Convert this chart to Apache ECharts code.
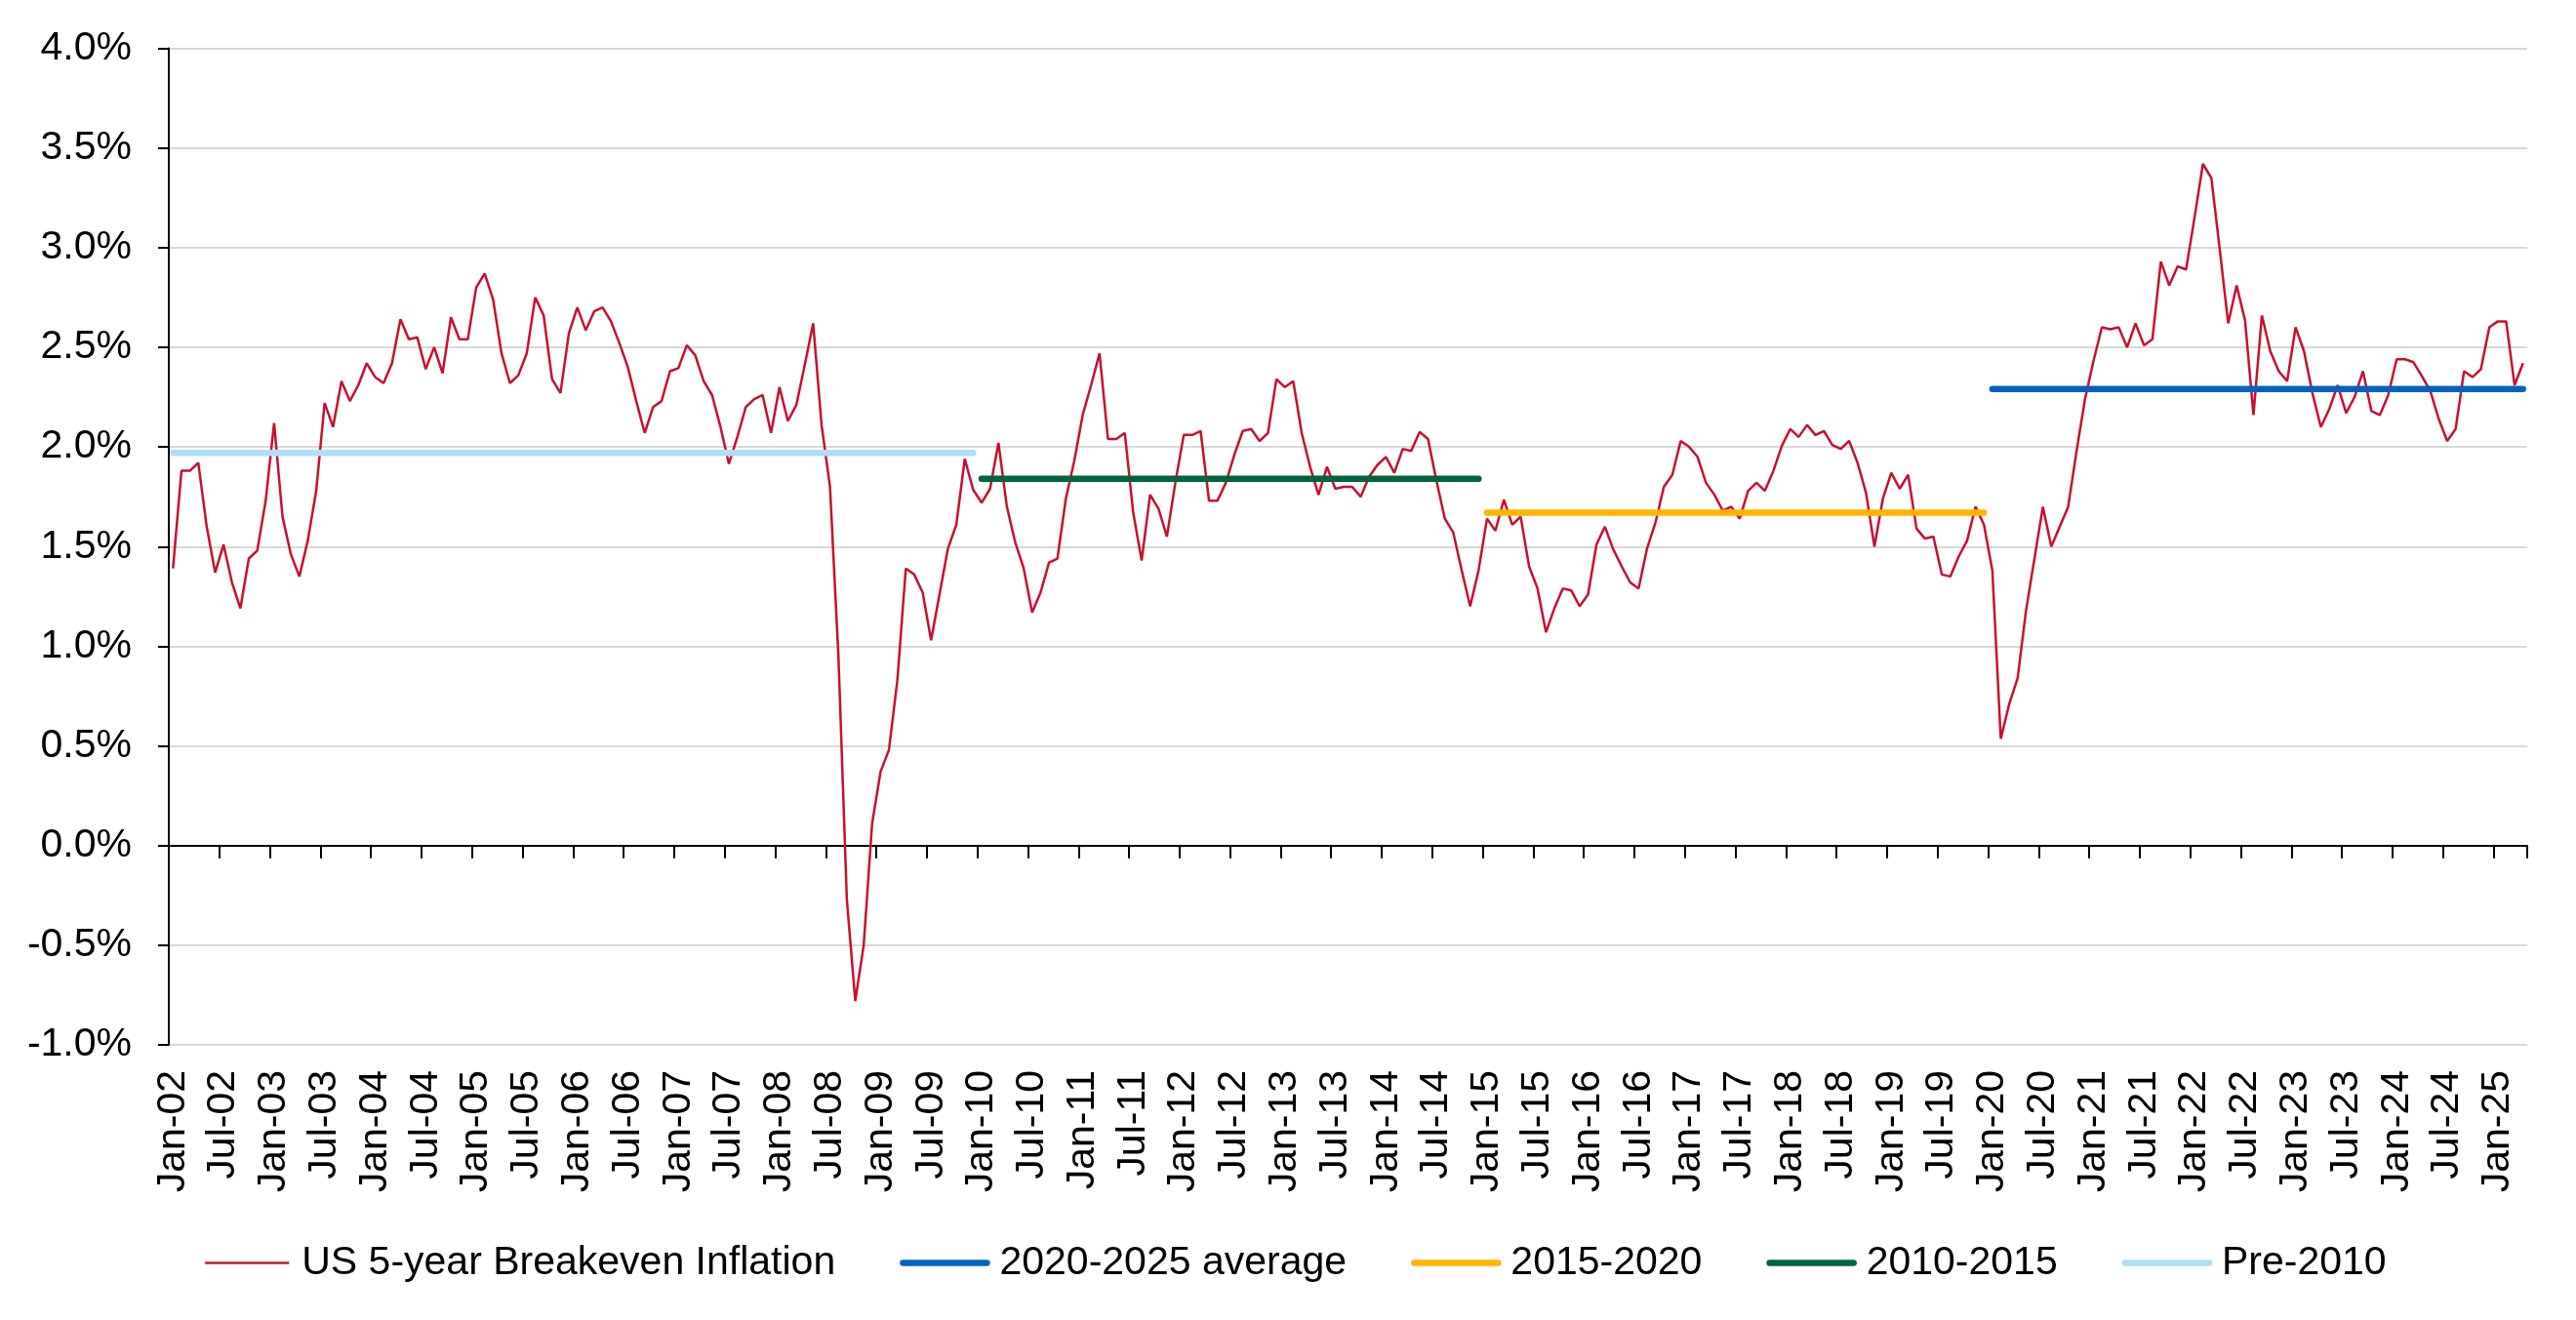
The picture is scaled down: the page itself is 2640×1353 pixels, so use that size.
<!DOCTYPE html>
<html>
<head>
<meta charset="utf-8">
<script src="https://cdn.jsdelivr.net/npm/echarts@6/dist/echarts.min.js"></script>
<style>
  html, body { margin: 0; padding: 0; background: #fff; }
  #chart { width: 2640px; height: 1353px; }
</style>
</head>
<body>
<div id="chart"></div>
<script>
// monthly US 5-year breakeven inflation, Jan-02 .. Apr-25 (%)
const bei2002to2005 = [
  1.39, 1.88, 1.88, 1.92, 1.60, 1.37, 1.51, 1.32, 1.19, 1.44, 1.48, 1.73,
  2.12, 1.65, 1.46, 1.35, 1.53, 1.78, 2.22, 2.10, 2.33, 2.23, 2.31, 2.42,
  2.35, 2.32, 2.42, 2.64, 2.54, 2.55, 2.39, 2.50, 2.37, 2.65, 2.54, 2.54,
  2.80, 2.87, 2.74, 2.47, 2.32, 2.36, 2.47, 2.75, 2.66, 2.34, 2.27, 2.57
];
const bei2006to2009 = [
  2.70, 2.585, 2.68, 2.70, 2.63, 2.52, 2.40, 2.23, 2.07, 2.20, 2.23, 2.38,
  2.395, 2.51, 2.46, 2.33, 2.26, 2.10, 1.915, 2.05, 2.20, 2.24, 2.26, 2.07,
  2.30, 2.13, 2.21, 2.41, 2.62, 2.11, 1.80, 0.95, -0.27, -0.78, -0.50, 0.11,
  0.37, 0.48, 0.83, 1.39, 1.36, 1.27, 1.03, 1.26, 1.49, 1.61, 1.94, 1.785
];
const bei2010to2013 = [
  1.72, 1.79, 2.02, 1.70, 1.52, 1.39, 1.17, 1.27, 1.42, 1.44, 1.74, 1.93,
  2.16, 2.31, 2.47, 2.04, 2.04, 2.07, 1.67, 1.43, 1.76, 1.69, 1.55, 1.82,
  2.06, 2.06, 2.08, 1.73, 1.73, 1.82, 1.96, 2.08, 2.09, 2.03, 2.07, 2.34,
  2.30, 2.33, 2.07, 1.90, 1.76, 1.90, 1.79, 1.80, 1.80, 1.75, 1.85, 1.91
];
const bei2014to2017 = [
  1.95, 1.87, 1.99, 1.98, 2.075, 2.04, 1.83, 1.64, 1.57, 1.38, 1.20, 1.38,
  1.64, 1.58, 1.735, 1.61, 1.65, 1.40, 1.29, 1.07, 1.19, 1.29, 1.28, 1.20,
  1.26, 1.51, 1.60, 1.485, 1.40, 1.32, 1.29, 1.49, 1.62, 1.80, 1.86, 2.03,
  2.00, 1.95, 1.82, 1.76, 1.68, 1.70, 1.64, 1.78, 1.82, 1.78, 1.88, 2.005
];
const bei2018to2021 = [
  2.09, 2.05, 2.11, 2.06, 2.08, 2.01, 1.99, 2.03, 1.92, 1.77, 1.50, 1.74,
  1.87, 1.79, 1.86, 1.59, 1.54, 1.55, 1.36, 1.35, 1.45, 1.53, 1.70, 1.61,
  1.38, 0.536, 0.71, 0.84, 1.18, 1.44, 1.70, 1.50, 1.60, 1.70, 1.98, 2.24,
  2.43, 2.60, 2.59, 2.60, 2.50, 2.62, 2.51, 2.54, 2.93, 2.81, 2.906, 2.89
];
const bei2022to2025 = [
  3.15, 3.42, 3.35, 2.99, 2.62, 2.81, 2.635, 2.16, 2.66, 2.48, 2.38, 2.33,
  2.60, 2.48, 2.27, 2.10, 2.19, 2.31, 2.17, 2.25, 2.38, 2.18, 2.16, 2.26,
  2.44, 2.44, 2.425, 2.355, 2.28, 2.14, 2.03, 2.09, 2.38, 2.35, 2.39, 2.60,
  2.63, 2.63, 2.31, 2.42
];
const breakeven = [].concat(bei2002to2005, bei2006to2009, bei2010to2013,
  bei2014to2017, bei2018to2021, bei2022to2025);

// period averages and the month index range each one covers
const avgNames  = ["2020-2025 average", "2015-2020", "2010-2015", "Pre-2010"];
const avgValues = [2.29, 1.67, 1.84, 1.97];
const avgFrom   = [216, 156, 96, 0];
const avgTo     = [279, 215, 155, 95];
const avgColors = ["#0563c0", "#ffb500", "#00643c", "#aee0f5"];

const monthNames = ["Jan","Feb","Mar","Apr","May","Jun","Jul","Aug","Sep","Oct","Nov","Dec"];
const categories = breakeven.map((v, i) => {
  const yr = 2 + Math.floor(i / 12);
  return monthNames[i % 12] + "-" + String(yr).padStart(2, "0");
});
const yTicks = { min: -1, max: 4, step: 0.5 };

const FONT = '"Liberation Sans", Arial, sans-serif';
const RED = "#c8102e";
const chart = echarts.init(document.getElementById("chart"));

const avgSeries = avgNames.map((name, k) => ({
  name: name,
  type: "line",
  symbol: "none",
  silent: true,
  lineStyle: { color: avgColors[k], width: 6.5, cap: "round" },
  itemStyle: { color: avgColors[k] },
  data: categories.map((c, i) => (i >= avgFrom[k] && i <= avgTo[k]) ? avgValues[k] : null)
}));

const legendData = [{
  name: "US 5-year Breakeven Inflation",
  lineStyle: { color: RED, width: 2.5 }
}].concat(avgNames.map((name, k) => ({
  name: name,
  lineStyle: { color: avgColors[k], width: 6.5, cap: "round" }
})));

chart.setOption({
  animation: false,
  backgroundColor: "#fff",
  grid: { left: 173, right: 50, top: 49.5, bottom: 282 },
  legend: {
    left: 204, top: 1269,
    itemWidth: 86, itemHeight: 40, itemGap: 66,
    itemStyle: { opacity: 0 },
    textStyle: { fontSize: 41, color: "#000", fontFamily: FONT, padding: [0, 0, 0, 8] },
    data: legendData
  },
  xAxis: [
    {
      type: "category",
      data: categories,
      boundaryGap: true,
      position: "bottom",
      axisLine: { show: false, onZero: false },
      axisTick: { show: false },
      splitLine: { show: false },
      axisLabel: {
        interval: 5, rotate: 90, margin: 26,
        fontSize: 41, color: "#000", fontFamily: FONT
      }
    },
    {
      type: "category",
      data: categories,
      boundaryGap: true,
      position: "top",
      axisLine: { show: true, onZero: true, lineStyle: { color: "#000", width: 2 } },
      axisTick: { show: true, interval: 5, inside: true, length: 13, lineStyle: { color: "#000", width: 2 } },
      axisLabel: { show: false },
      splitLine: { show: false }
    }
  ],
  yAxis: {
    type: "value",
    min: yTicks.min, max: yTicks.max, interval: yTicks.step,
    axisLine: { show: true, lineStyle: { color: "#000", width: 2 } },
    axisTick: { show: true, length: 11, lineStyle: { color: "#000", width: 2 } },
    splitLine: { show: true, lineStyle: { color: "#d9d9d9", width: 2 } },
    axisLabel: {
      margin: 38, fontSize: 41, color: "#000", fontFamily: FONT,
      formatter: v => v.toFixed(1) + "%"
    }
  },
  series: [
    {
      name: "US 5-year Breakeven Inflation",
      type: "line",
      symbol: "none",
      silent: true,
      lineStyle: { color: RED, width: 2.5 },
      itemStyle: { color: RED },
      data: breakeven
    }
  ].concat(avgSeries)
});
</script>
</body>
</html>
